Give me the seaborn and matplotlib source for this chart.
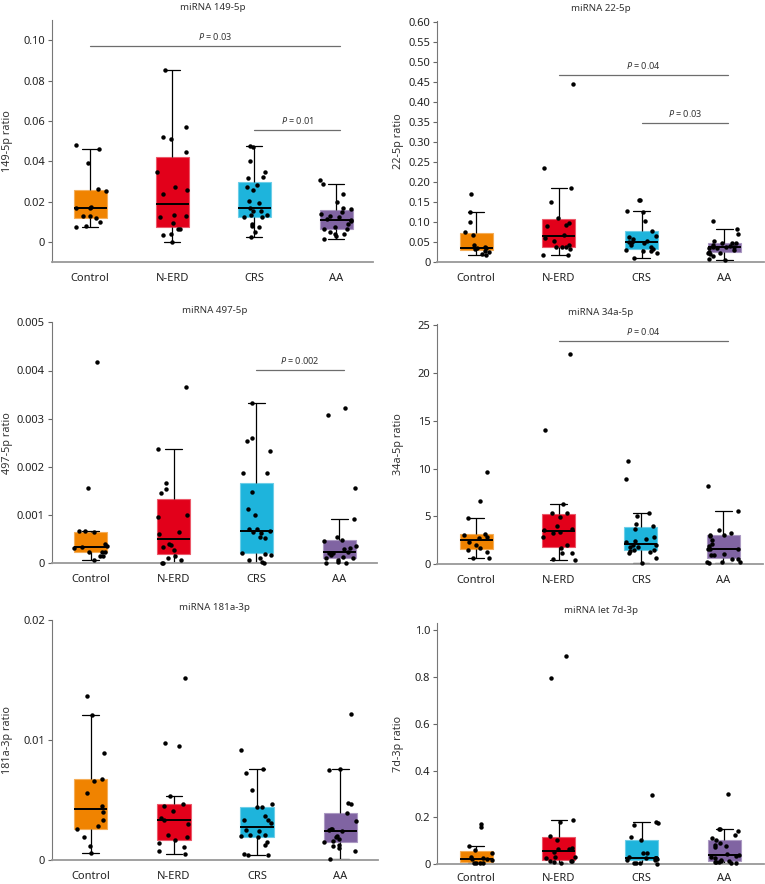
import numpy as np
import pandas as pd
import seaborn as sns
import matplotlib.pyplot as plt
from matplotlib.colors import to_rgb

groups = ['Control', 'N-ERD', 'CRS', 'AA']
colors = ['#F08300', '#E2001A', '#1EB4DC', '#8064A2']

# miRNA 149-5p
m149_ctrl = [0.0479, 0.0464, 0.039, 0.0262, 0.0252, 0.0173, 0.017, 0.017, 0.0132, 0.013, 0.0119, 0.0102, 0.0081, 0.0078]
m149_nerd = [0.0853, 0.0573, 0.0523, 0.0513, 0.0447, 0.0348, 0.0274, 0.0257, 0.0241, 0.0134, 0.013, 0.0124,
             0.0097, 0.0068, 0.0064, 0.0041, 0.0035, 0.0003]
m149_crs = [0.0477, 0.0472, 0.0404, 0.0348, 0.0323, 0.0317, 0.0284, 0.0276, 0.0259, 0.0206, 0.0193, 0.0172,
            0.0157, 0.0157, 0.0137, 0.0135, 0.0127, 0.0127, 0.009, 0.0083, 0.0078, 0.0053, 0.0028]
m149_aa = [0.0307, 0.0287, 0.0239, 0.0201, 0.0172, 0.0163, 0.015, 0.0139, 0.013, 0.0124, 0.0114, 0.0111,
           0.0106, 0.0091, 0.0074, 0.0068, 0.0064, 0.0051, 0.004, 0.004, 0.0031, 0.0017]

# miRNA 22-5p
m22_ctrl = [0.17, 0.125, 0.10, 0.075, 0.066, 0.041, 0.036, 0.035, 0.034, 0.033, 0.027, 0.025, 0.019, 0.018]
m22_nerd = [0.445, 0.234, 0.185, 0.150, 0.110, 0.097, 0.091, 0.089, 0.068, 0.060, 0.052, 0.043, 0.037, 0.037,
            0.037, 0.031, 0.017, 0.016]
m22_crs = [0.154, 0.154, 0.127, 0.125, 0.102, 0.077, 0.065, 0.061, 0.056, 0.052, 0.049, 0.049, 0.046, 0.041,
           0.036, 0.031, 0.029, 0.027, 0.026, 0.022, 0.009]
m22_aa = [0.102, 0.082, 0.069, 0.053, 0.048, 0.048, 0.047, 0.043, 0.040, 0.038, 0.036, 0.036, 0.034, 0.034,
          0.030, 0.025, 0.023, 0.022, 0.019, 0.014, 0.006, 0.005]

# miRNA 497-5p
m497_ctrl = [0.00417, 0.00156, 0.00068, 0.00066, 0.00064, 0.00041, 0.00036, 0.00033, 0.00031, 0.00024,
             0.00024, 0.00023, 0.00016, 0.00016, 0.00007]
m497_nerd = [0.00365, 0.00237, 0.00167, 0.00154, 0.00145, 0.001, 0.00097, 0.00064, 0.0006, 0.0004, 0.00039,
             0.00033, 0.00028, 0.00016, 0.0001, 0.00006, 0.0, 0.0]
m497_crs = [0.00333, 0.0026, 0.00253, 0.00233, 0.00188, 0.00187, 0.00147, 0.00113, 0.00101, 0.00072, 0.00071,
            0.00067, 0.00064, 0.00062, 0.00055, 0.00053, 0.00022, 0.00019, 0.00017, 0.0001, 0.00006, 0.00002, 0.0]
m497_aa = [0.00323, 0.00307, 0.00157, 0.00092, 0.00055, 0.00048, 0.00047, 0.00036, 0.00031, 0.00029, 0.00023,
           0.00021, 0.00021, 0.00017, 0.00014, 0.00012, 0.0001, 0.00007, 0.00003, 0.0, 0.0]

# miRNA 34a-5p
m34_ctrl = [9.6, 6.57, 4.8, 3.13, 3.02, 2.82, 2.71, 2.33, 1.98, 1.70, 1.50, 1.22, 0.59, 0.59]
m34_nerd = [22.0, 13.98, 6.33, 5.39, 5.29, 4.9, 4.03, 3.65, 3.51, 3.3, 3.2, 2.82, 2.02, 1.65, 1.18, 1.11, 0.56, 0.38]
m34_crs = [10.74, 8.87, 5.36, 5.01, 4.17, 3.96, 3.69, 2.85, 2.57, 2.36, 2.29, 2.0, 1.98, 1.81, 1.74, 1.46,
           1.46, 1.36, 1.25, 1.11, 0.59, 0.14]
m34_aa = [8.2, 5.53, 3.51, 3.27, 3.02, 3.02, 2.96, 2.50, 2.09, 1.88, 1.53, 1.53, 1.53, 1.04, 0.94, 0.94, 0.56,
          0.56, 0.24, 0.24, 0.24, 0.14]

# miRNA 181a-3p
m181_ctrl = [0.01367, 0.01206, 0.00894, 0.00675, 0.00661, 0.00556, 0.00447, 0.004, 0.00333, 0.0028, 0.00256,
             0.00194, 0.00117, 0.00056]
m181_nerd = [0.0152, 0.00978, 0.00953, 0.00536, 0.00464, 0.00447, 0.00408, 0.0035, 0.00331, 0.003, 0.00208,
             0.00189, 0.00169, 0.00139, 0.00111, 0.00072, 0.0005]
m181_crs = [0.00917, 0.00761, 0.00725, 0.00581, 0.00469, 0.00444, 0.00439, 0.00367, 0.00333, 0.00333, 0.00306,
            0.00247, 0.00244, 0.00208, 0.00206, 0.00203, 0.00189, 0.00147, 0.00125, 0.00047, 0.00042, 0.00042]
m181_aa = [0.0122, 0.00758, 0.0075, 0.00478, 0.00469, 0.00392, 0.00322, 0.00261, 0.00256, 0.0025, 0.00244,
           0.002, 0.00194, 0.00172, 0.00161, 0.00147, 0.00128, 0.00117, 0.00103, 0.00075, 0.00006]

# miRNA let 7d-3p
let7_ctrl = [0.174, 0.159, 0.077, 0.061, 0.047, 0.033, 0.026, 0.023, 0.021, 0.018, 0.007, 0.007, 0.004, 0.004]
let7_nerd = [0.891, 0.794, 0.191, 0.179, 0.121, 0.104, 0.068, 0.067, 0.065, 0.052, 0.033, 0.03, 0.026, 0.016,
             0.016, 0.012, 0.009, 0.007]
let7_crs = [0.296, 0.179, 0.176, 0.169, 0.118, 0.104, 0.05, 0.047, 0.03, 0.028, 0.027, 0.026, 0.026, 0.026,
            0.023, 0.018, 0.017, 0.007, 0.007, 0.004, 0.003]
let7_aa = [0.30, 0.151, 0.149, 0.144, 0.126, 0.113, 0.103, 0.093, 0.083, 0.079, 0.074, 0.042, 0.039, 0.036,
           0.033, 0.025, 0.017, 0.016, 0.014, 0.010, 0.010, 0.009, 0.007, 0.006]

titles = ['miRNA 149-5p', 'miRNA 22-5p', 'miRNA 497-5p', 'miRNA 34a-5p', 'miRNA 181a-3p', 'miRNA let 7d-3p']
ylabels = ['149-5p ratio', '22-5p ratio', '497-5p ratio', '34a-5p ratio', '181a-3p ratio', '7d-3p ratio']
panel_data = [
    [m149_ctrl, m149_nerd, m149_crs, m149_aa],
    [m22_ctrl, m22_nerd, m22_crs, m22_aa],
    [m497_ctrl, m497_nerd, m497_crs, m497_aa],
    [m34_ctrl, m34_nerd, m34_crs, m34_aa],
    [m181_ctrl, m181_nerd, m181_crs, m181_aa],
    [let7_ctrl, let7_nerd, let7_crs, let7_aa],
]
ticks = [
    [0, 0.02, 0.04, 0.06, 0.08, 0.10],
    [0, 0.05, 0.10, 0.15, 0.20, 0.25, 0.30, 0.35, 0.40, 0.45, 0.50, 0.55, 0.60],
    [0, 0.001, 0.002, 0.003, 0.004, 0.005],
    [0, 5, 10, 15, 20, 25],
    [0, 0.01, 0.02],
    [0, 0.2, 0.4, 0.6, 0.8, 1.0],
]
tick_labels = [
    ['0', '0.02', '0.04', '0.06', '0.08', '0.10'],
    ['0', '0.05', '0.10', '0.15', '0.20', '0.25', '0.30', '0.35', '0.40', '0.45', '0.50', '0.55', '0.60'],
    ['0', '0.001', '0.002', '0.003', '0.004', '0.005'],
    ['0', '5', '10', '15', '20', '25'],
    ['0', '0.01', '0.02'],
    ['0', '0.2', '0.4', '0.6', '0.8', '1.0'],
]
ylims = [(-0.0096, 0.110), (0, 0.602), (0, 0.005), (0, 25.1), (0, 0.02), (0, 1.03)]

# significance bars: (panel, from group, to group, y, p text)
sig_bars = [
    (0, 0, 3, 0.0972, '0.03'),
    (0, 2, 3, 0.0557, '0.01'),
    (1, 1, 3, 0.466, '0.04'),
    (1, 2, 3, 0.3457, '0.03'),
    (2, 2, 3, 0.00401, '0.002'),
    (3, 1, 3, 23.3, '0.04'),
]

# axes boxes in pixels: left, top, right, bottom
W, H = 765, 884
boxes = [
    (51.7, 20, 373, 261.7),
    (437.3, 21, 764, 261.7),
    (51.7, 322.3, 376.7, 563.3),
    (437.3, 324.3, 763, 564),
    (51.7, 620, 377.7, 860),
    (437.3, 623, 764, 864.3),
]
# right edge (pixels) of the rotated y label
label_x = [13, 404, 13, 404, 13, 404]

sns.set_style('white')
plt.rcParams['font.family'] = ['Noto Sans', 'DejaVu Sans']
plt.rcParams['mathtext.fontset'] = 'custom'
plt.rcParams['mathtext.it'] = 'Noto Sans:italic'
plt.rcParams['mathtext.rm'] = 'Noto Sans'

np.random.seed(7)
fig = plt.figure(figsize=(W / 100, H / 100), dpi=100)

for k in range(6):
    l, t, r, b = boxes[k]
    ax = fig.add_axes([l / W, 1 - b / H, (r - l) / W, (b - t) / H])
    rows = []
    for g, vals in zip(groups, panel_data[k]):
        for v in vals:
            rows.append({'group': g, 'value': v})
    df = pd.DataFrame(rows)

    sns.boxplot(data=df, x='group', y='value', hue='group', order=groups, hue_order=groups,
                palette=colors, width=0.4, whis=1.5, showfliers=False, linecolor='black',
                linewidth=0.9, saturation=1, legend=False, ax=ax,
                medianprops=dict(linewidth=1.4, color='black'))
    for p in ax.patches:
        fc = np.array(to_rgb(p.get_facecolor()[:3]))
        p.set_edgecolor(fc + (1 - fc) * 0.35)
        p.set_linewidth(0.8)
    sns.stripplot(data=df, x='group', y='value', order=groups, color='black', size=3.2,
                  jitter=0.2, ax=ax, zorder=5)
    for c in ax.collections:
        c.set_clip_on(False)

    for (pk, i, j, y, ptxt) in sig_bars:
        if pk != k:
            continue
        ax.plot([i, j + 0.05], [y, y], color='#6d6d6d', lw=0.9, clip_on=False)
        ax.annotate('$P$ = ' + ptxt, xy=((i + j + 0.05) / 2, y), xytext=(0, 3), textcoords='offset points',
                    ha='center', va='bottom', fontsize=6.5, color='#333333')

    ax.set_xlim(-0.47, 3.45 if k % 2 == 0 else 3.48)
    ax.set_ylim(*ylims[k])
    ax.set_yticks(ticks[k])
    ax.set_yticklabels(tick_labels[k])
    ax.set_xlabel('')
    ax.set_ylabel(ylabels[k], fontsize=7.8, color='#333333')
    ax.yaxis.set_label_coords((label_x[k] - l) / (r - l), 0.5)
    ax.set_title(titles[k], fontsize=7, color='#333333', pad=7)
    ax.tick_params(axis='y', left=True, length=3, width=0.8, color='#666666', labelsize=8,
                   labelcolor='#222222', pad=2)
    ax.tick_params(axis='x', bottom=False, labelsize=8, labelcolor='#222222', pad=2.5 if k == 5 else 4.5)
    sns.despine(ax=ax)
    ax.spines['left'].set_color('#777777')
    ax.spines['left'].set_linewidth(0.8)
    ax.spines['bottom'].set_color('#999999')
    ax.spines['bottom'].set_linewidth(1.3)

plt.savefig('out.png', dpi=100)
